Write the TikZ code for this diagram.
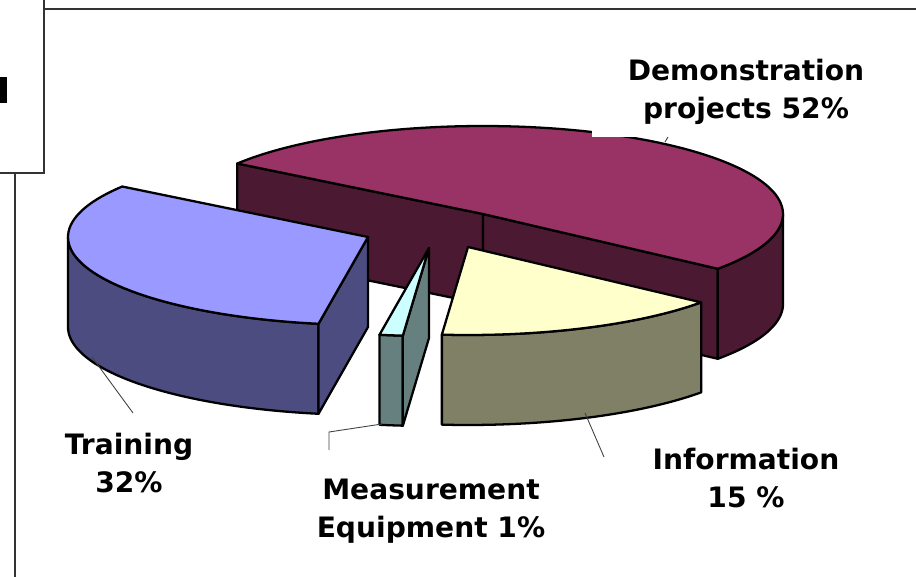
\documentclass[tikz,border=0pt]{standalone}
\usepackage{fontspec}
\setmainfont{DejaVu Sans}
\usepackage{tikz}
\usetikzlibrary{calc}
\definecolor{demotop}{HTML}{993366}
\definecolor{demoside}{HTML}{4C1933}
\definecolor{traintop}{HTML}{9999FF}
\definecolor{trainside}{HTML}{4C4C80}
\definecolor{meastop}{HTML}{CCFFFF}
\definecolor{measside}{HTML}{668080}
\definecolor{infotop}{HTML}{FFFFCC}
\definecolor{infoside}{HTML}{808066}
\tikzset{
    face/.style={draw=black, line width=1.3pt, line join=round},
    lbl/.style={font=\fontsize{16}{21.5}\selectfont\bfseries, align=center, inner sep=0pt, text depth=0pt, anchor=south},
    leader/.style={draw=black!75, line width=0.5pt},
    frame/.style={draw=black!80, line width=0.85pt}
}

\begin{document}
\begin{tikzpicture}[x=0.02cm, y=-0.02cm]
\useasboundingbox (0,0) rectangle (916,577);

% slide frame
\draw[frame] (44,9) -- (916,9);
\draw[frame] (0,173) -- (44,173) -- (44,0);
\draw[frame] (15,173) -- (15,577);
\fill (0,77) rectangle (7,103);

% Demonstration projects
\coordinate (dC) at (483,214);
\coordinate (dL) at ({483+300*cos(145)},{214-88*sin(145)});
\coordinate (dR) at ({483+300*cos(-38.5)},{214-88*sin(-38.5)});
\draw[face, fill=demoside] (dL) -- (dC) -- ($(dC)+(0,90)$) -- ($(dL)+(0,90)$) -- cycle;
\draw[face, fill=demoside] (dC) -- (dR) -- ($(dR)+(0,90)$) -- ($(dC)+(0,90)$) -- cycle;
\draw[face, fill=demoside] plot[domain=-38.5:0, samples=30] ({483+300*cos(\x)},{214-88*sin(\x)})
    -- plot[domain=0:-38.5, samples=30] ({483+300*cos(\x)},{304-88*sin(\x)}) -- cycle;
\draw[face, fill=demotop] (dC) -- plot[domain=-38.5:145, samples=90] ({483+300*cos(\x)},{214-88*sin(\x)}) -- cycle;

% Training
\coordinate (tC) at (368,237);
\coordinate (tR) at ({368+300*cos(260.5)},{237-88*sin(260.5)});
\draw[face, fill=trainside] plot[domain=180:260.5, samples=50] ({368+300*cos(\x)},{237-88*sin(\x)})
    -- plot[domain=260.5:180, samples=50] ({368+300*cos(\x)},{327-88*sin(\x)}) -- cycle;
\draw[face, fill=trainside] (tC) -- (tR) -- ($(tR)+(0,90)$) -- ($(tC)+(0,90)$) -- cycle;
\draw[face, fill=traintop] (tC) -- plot[domain=145:260.5, samples=60] ({368+300*cos(\x)},{237-88*sin(\x)}) -- cycle;

% Measurement Equipment
\coordinate (mC) at (429,248);
\coordinate (mR) at ({429+300*cos(265)},{248-88*sin(265)});
\draw[face, fill=measside] plot[domain=260.5:265, samples=5] ({429+300*cos(\x)},{248-88*sin(\x)})
    -- plot[domain=265:260.5, samples=5] ({429+300*cos(\x)},{338-88*sin(\x)}) -- cycle;
\draw[face, fill=measside] (mC) -- (mR) -- ($(mR)+(0,90)$) -- ($(mC)+(0,90)$) -- cycle;
\draw[face, fill=meastop] (mC) -- plot[domain=260.5:265, samples=5] ({429+300*cos(\x)},{248-88*sin(\x)}) -- cycle;

% Information
\coordinate (iC) at (468,247);
\draw[face, fill=infoside] plot[domain=265:321, samples=40] ({468+300*cos(\x)},{247-88*sin(\x)})
    -- plot[domain=321:265, samples=40] ({468+300*cos(\x)},{337-88*sin(\x)}) -- cycle;
\draw[face, fill=infotop] (iC) -- plot[domain=265:321, samples=40] ({468+300*cos(\x)},{247-88*sin(\x)}) -- cycle;

% labels
\node[lbl, fill=white, minimum width=6.16cm, inner ysep=0.36cm] (demo) at (746,137) {Demonstration\\projects 52\%};
\node[lbl] (train) at (129,493) {Training\\32\%};
\node[lbl] (meas) at (431,538) {Measurement\\Equipment 1\%};
\node[lbl] (info) at (746,508) {Information\\15 \%};

% leader lines
\coordinate (dA) at (668,137);
\coordinate (dB) at (665,142);
\coordinate (tA) at (92,357);
\coordinate (tB) at (133,413);
\coordinate (mA) at (382,424);
\coordinate (mB) at (329,432);
\coordinate (mD) at (329,450);
\coordinate (iA) at (585,413);
\coordinate (iB) at (604,457);
\draw[leader] (dA) -- (dB);
\draw[leader] (tA) -- (tB);
\draw[leader] (mA) -- (mB) -- (mD);
\draw[leader] (iA) -- (iB);
\end{tikzpicture}
\end{document}
